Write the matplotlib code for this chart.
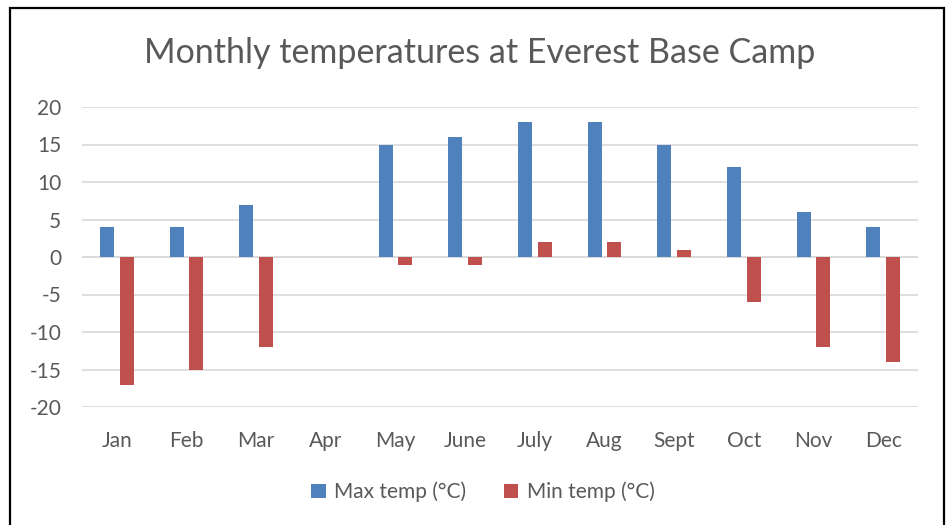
import numpy as np
import matplotlib.pyplot as plt
from matplotlib.patches import Rectangle

months = ['Jan', 'Feb', 'Mar', 'Apr', 'May', 'June', 'July', 'Aug', 'Sept', 'Oct', 'Nov', 'Dec']
max_temp = [4, 4, 7, np.nan, 15, 16, 18, 18, 15, 12, 6, 4]
min_temp = [-17, -15, -12, np.nan, -1, -1, 2, 2, 1, -6, -12, -14]
yticks = [-20, -15, -10, -5, 0, 5, 10, 15, 20]

blue = '#4F81BD'
red = '#C0504D'
grey = '#595959'

plt.rcParams['font.family'] = ['Lato', 'DejaVu Sans']

fig = plt.figure(figsize=(9.53, 5.25), dpi=100)
ax = fig.add_axes([82/953, 118/525, 836/953, 300/525])

x = np.arange(len(months))
w = 0.2
ax.bar(x - 0.14, max_temp, w, color=blue, label='Max temp (°C)', zorder=3)
ax.bar(x + 0.14, min_temp, w, color=red, label='Min temp (°C)', zorder=3)

ax.set_xlim(-0.5, len(months) - 0.5)
ax.set_ylim(-20, 20)
ax.set_yticks(yticks)
ax.set_yticklabels([str(v) for v in yticks])
ax.set_xticks(x)
ax.set_xticklabels(months)
ax.grid(axis='y', color='#D9D9D9', linewidth=1.2, zorder=0)
ax.axhline(0, color='#D9D9D9', linewidth=1.2, zorder=1)
for s in ax.spines.values():
    s.set_visible(False)
ax.tick_params(axis='both', length=0, labelsize=15, colors=grey)
ax.tick_params(axis='y', pad=15)
ax.tick_params(axis='x', pad=17)

fig.text(480/953, 1 - 53/525, 'Monthly temperatures at Everest Base Camp',
         ha='center', va='center', fontsize=24.5, color=grey)

fig.legend(loc='center', bbox_to_anchor=(483/953, 1 - 492/525), ncol=2, frameon=False,
           fontsize=15, labelcolor=grey, handlelength=0.7, handleheight=0.7,
           handletextpad=0.4, columnspacing=1.8)

# outer chart border (bottom edge is cut off in the reference)
fig.patches.append(Rectangle((10/953, -0.05), 934/953, 1.05 - 8/525, transform=fig.transFigure,
                             fill=False, edgecolor='black', linewidth=1.6))

fig.savefig('out.png', dpi=100)
